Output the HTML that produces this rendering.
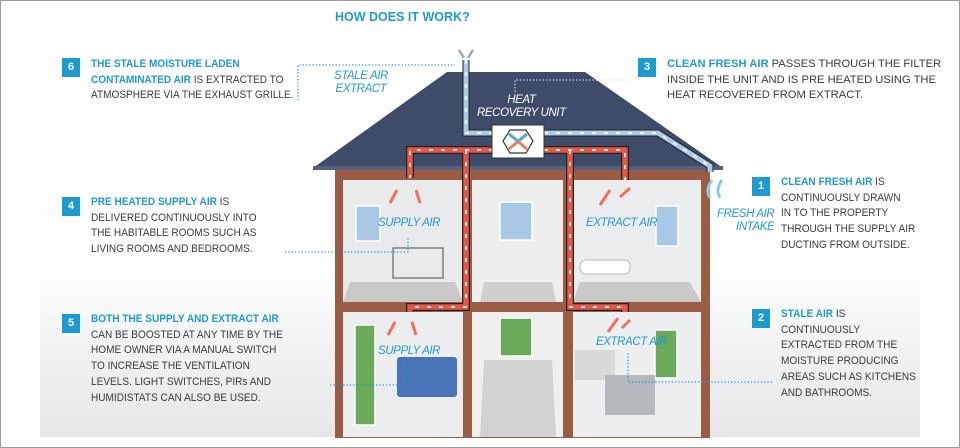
<!DOCTYPE html>
<html><head><meta charset="utf-8"><style>
html,body{margin:0;padding:0}
body{width:960px;height:448px;position:relative;overflow:hidden;background:#fff;font-family:"Liberation Sans",sans-serif}
.frame{position:absolute;left:0;top:0;width:958px;height:446px;border:1px solid #9a9a9a}
.panel{position:absolute;left:40px;top:260px;width:880px;height:177px;background:linear-gradient(#fff,#e4e6e8)}
svg{position:absolute;left:0;top:0}
.blk{position:absolute;font-size:11.2px;line-height:15.7px;color:#3a3a3a;white-space:nowrap;transform-origin:0 0;transform:scaleX(0.9)}
.blk b{color:#1e9ad2}
.badge{position:absolute;width:18px;height:19px;background:#1e9ad2;color:#fff;font:bold 11px "Liberation Sans",sans-serif;text-align:center;line-height:19px}
.lbl{position:absolute;color:#1e9ad2;font-style:italic;font-size:11.5px;line-height:13px;text-align:center;white-space:nowrap;letter-spacing:-0.4px}
.title{position:absolute;left:335px;top:10px;color:#1e9ad2;font:bold 12.5px "Liberation Sans",sans-serif}
</style></head><body>
<div class="frame"></div>
<div class="panel"></div>
<svg width="960" height="448" viewBox="0 0 960 448">
 <rect x="335" y="168" width="375" height="270" fill="#9b5c46"/>
 <rect x="343" y="180" width="120" height="122" fill="#e9eaec"/>
 <rect x="472" y="180" width="91" height="122" fill="#eeeeee"/>
 <rect x="573" y="180" width="128" height="122" fill="#ebecee"/>
 <rect x="343" y="312" width="120" height="125" fill="#ecedef"/>
 <rect x="472" y="312" width="91" height="125" fill="#efefef"/>
 <rect x="573" y="312" width="128" height="125" fill="#eceeef"/>
 <polygon points="343,302 463,302 455,282 350,282" fill="#c9c9c9"/>
 <polygon points="573,302 701,302 690,282 580,282" fill="#c9c9c9"/>
 <polygon points="480,302 556,302 552,282 484,282" fill="#cfcfcf"/>
 <polygon points="480,437 556,437 552,360 484,360" fill="#d2d2d2"/>
 <rect x="356" y="206" width="24" height="35" fill="#a9c8e6" stroke="#fff" stroke-width="1.5"/>
 <rect x="500" y="202" width="32" height="38" fill="#a9c8e6" stroke="#fff" stroke-width="1.5"/>
 <rect x="656" y="206" width="22" height="40" fill="#a9c8e6" stroke="#fff" stroke-width="1.5"/>
 <rect x="355" y="325" width="20" height="100" fill="#6aaa5a" stroke="#fff" stroke-width="1.5"/>
 <rect x="500" y="318" width="32" height="38" fill="#6aaa5a" stroke="#fff" stroke-width="1.5"/>
 <rect x="655" y="330" width="22" height="48" fill="#6aaa5a" stroke="#fff" stroke-width="1.5"/>
 <rect x="393" y="248" width="50" height="30" fill="none" stroke="#666" stroke-width="1.2"/>
 <rect x="580" y="260" width="50" height="14" rx="6" fill="#fff" stroke="#bbb"/>
 <rect x="397" y="357" width="60" height="40" rx="3" fill="#4a74b8"/>
 <rect x="575" y="350" width="40" height="30" fill="#d7d8da"/>
 <rect x="605" y="375" width="50" height="40" fill="#b5b8bc"/>
 <polygon points="447,72 585,72 723,168 313,168" fill="#3e4b69"/>
 <rect x="313" y="166" width="410" height="4" fill="#56627d"/>
 <path d="M466,60 V133 H493 M544,133 H658 L710,166 V172" fill="none" stroke="#222" stroke-width="7"/>
 <path d="M466,60 V133 H493 M544,133 H658 L710,166 V172" fill="none" stroke="#a9cbe6" stroke-width="5"/>
 <path d="M466,60 V133 H493 M544,133 H658 L710,166" fill="none" stroke="#fff" stroke-width="1.5" stroke-dasharray="4 8"/>
 <path d="M493,150 H410 V178 M466,150 V307 H410 V312 M544,150 H625 V180 M570,150 V307 H625 V312" fill="none" stroke="#222" stroke-width="8"/>
 <path d="M493,150 H410 V178 M466,150 V307 H410 V312 M544,150 H625 V180 M570,150 V307 H625 V312" fill="none" stroke="#e2594a" stroke-width="5.5"/>
 <path d="M493,150 H410 V178 M466,150 V307 H410 M544,150 H625 V180 M570,150 V307 H625" fill="none" stroke="#fff" stroke-width="1.5" stroke-dasharray="4 8"/>
 <rect x="492" y="125" width="52" height="33" fill="#fff" stroke="#333" stroke-width="1"/>
 <polygon points="510,130 526,130 533,141 526,153 510,153 503,141" fill="none" stroke="#333" stroke-width="1.2"/>
 <path d="M509,134 L527,149 M527,134 L509,149" stroke="#e0825a" stroke-width="3"/>
 <path d="M509,134 L518,141 M527,134 L518,141" stroke="#5aaad6" stroke-width="3"/>
 <path d="M459,50 L464,58 M473,50 L468,58" stroke="#9aa6b0" stroke-width="2.5"/>
 <g stroke="#ef7060" stroke-width="3" fill="none">
 <path d="M397,190 L390,203 M416,190 L420,203"/>
 <path d="M395,322 L388,335 M412,322 L416,335"/>
 <path d="M600,205 L610,190 M620,197 L630,188"/>
 <path d="M608,332 L618,318 M622,328 L630,320"/>
 </g>
 <path d="M712,180 Q705,190 710,198 M722,180 Q715,190 720,198" stroke="#8ccbe6" stroke-width="3" fill="none"/>
 <g stroke="#1e9ad2" stroke-width="1.3" stroke-dasharray="1.3 2" fill="none">
 <path d="M298,100 V65 H455"/>
 <path d="M630,80 H515 V94" stroke="#cfe3f2"/>
 <path d="M285,252 H408 V237"/>
 <path d="M330,385 H405 V355"/>
 <path d="M772,382 H628 V352"/>
 </g>
</svg>
<div class="title">HOW DOES IT WORK?</div>
<div class="lbl" style="left:334px;top:70px">STALE AIR<br>EXTRACT</div>
<div class="lbl" style="left:477px;top:94px;color:#fff">HEAT<br>RECOVERY UNIT</div>
<div class="lbl" style="left:378px;top:217px">SUPPLY AIR</div>
<div class="lbl" style="left:586px;top:217px">EXTRACT AIR</div>
<div class="lbl" style="left:378px;top:345px">SUPPLY AIR</div>
<div class="lbl" style="left:596px;top:336px">EXTRACT AIR</div>
<div class="lbl" style="left:717px;top:208px;text-align:right">FRESH AIR<br>&nbsp;&nbsp;INTAKE</div>

<div class="badge" style="left:62px;top:58px">6</div>
<div class="blk" style="left:91px;top:57px"><b>THE STALE MOISTURE LADEN</b><br><b>CONTAMINATED AIR</b> IS EXTRACTED TO<br>ATMOSPHERE VIA THE EXHAUST GRILLE.</div>
<div class="badge" style="left:62px;top:197px">4</div>
<div class="blk" style="left:91px;top:195px"><b>PRE HEATED SUPPLY AIR</b> IS<br>DELIVERED CONTINUOUSLY INTO<br>THE HABITABLE ROOMS SUCH AS<br>LIVING ROOMS AND BEDROOMS.</div>
<div class="badge" style="left:62px;top:314px">5</div>
<div class="blk" style="left:91px;top:312px"><b>BOTH THE SUPPLY AND EXTRACT AIR</b><br>CAN BE BOOSTED AT ANY TIME BY THE<br>HOME OWNER VIA A MANUAL SWITCH<br>TO INCREASE THE VENTILATION<br>LEVELS. LIGHT SWITCHES, PIRs AND<br>HUMIDISTATS CAN ALSO BE USED.</div>
<div class="badge" style="left:638px;top:58px">3</div>
<div class="blk" style="left:667px;top:57px;transform:none"><b>CLEAN FRESH AIR</b> PASSES THROUGH THE FILTER<br>INSIDE THE UNIT AND IS PRE HEATED USING THE<br>HEAT RECOVERED FROM EXTRACT.</div>
<div class="badge" style="left:752px;top:177px">1</div>
<div class="blk" style="left:781px;top:175px"><b>CLEAN FRESH AIR</b> IS<br>CONTINUOUSLY DRAWN<br>IN TO THE PROPERTY<br>THROUGH THE SUPPLY AIR<br>DUCTING FROM OUTSIDE.</div>
<div class="badge" style="left:752px;top:309px">2</div>
<div class="blk" style="left:781px;top:307px"><b>STALE AIR</b> IS<br>CONTINUOUSLY<br>EXTRACTED FROM THE<br>MOISTURE PRODUCING<br>AREAS SUCH AS KITCHENS<br>AND BATHROOMS.</div>
</body></html>
